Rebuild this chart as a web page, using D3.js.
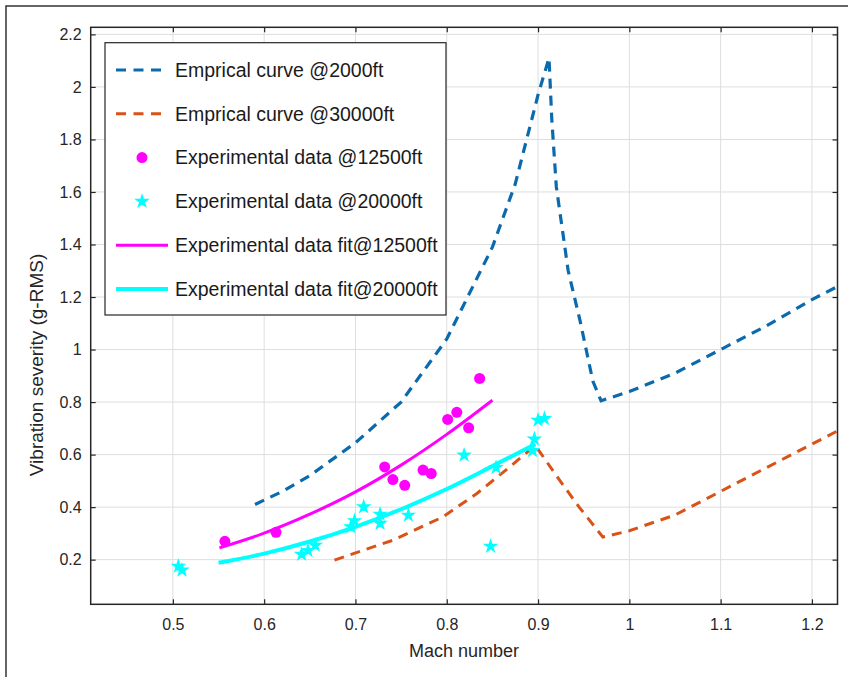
<!DOCTYPE html>
<html>
<head>
<meta charset="utf-8">
<script src="https://cdn.jsdelivr.net/npm/d3@7"></script>
<style>
	body { margin: 0; background: #fff; }
	svg { display: block; font-family: "Liberation Sans", Arial, sans-serif; }
</style>
</head>
<body>
<svg id="chart"></svg>
<script>
// tick values
var xTicks = [0.5, 0.6, 0.7, 0.8, 0.9, 1, 1.1, 1.2];
var yTicks = [0.2, 0.4, 0.6, 0.8, 1, 1.2, 1.4, 1.6, 1.8, 2, 2.2];

// empirical curve @2000ft
var emp2000Mach = [0.59, 0.62, 0.65, 0.7, 0.75, 0.8, 0.85, 0.875, 0.9, 0.912, 0.915, 0.92, 0.933, 0.946, 0.96, 0.969, 1.0, 1.05, 1.1, 1.15, 1.2, 1.228];
var emp2000Vib = [0.41, 0.46, 0.52, 0.645, 0.80, 1.04, 1.39, 1.63, 1.97, 2.11, 1.88, 1.62, 1.30, 1.11, 0.88, 0.805, 0.84, 0.91, 1.0, 1.09, 1.19, 1.24];

// empirical curve @30000ft
var emp30000Mach = [0.677, 0.741, 0.796, 0.833, 0.869, 0.897, 0.92, 0.945, 0.971, 1.0, 1.05, 1.1, 1.15, 1.2, 1.228];
var emp30000Vib = [0.198, 0.274, 0.363, 0.452, 0.553, 0.635, 0.52, 0.40, 0.286, 0.31, 0.37, 0.46, 0.55, 0.64, 0.69];

// experimental data @12500ft
var exp12500Mach = [0.557, 0.613, 0.732, 0.741, 0.754, 0.774, 0.783, 0.801, 0.811, 0.824, 0.836];
var exp12500Vib = [0.270, 0.304, 0.553, 0.505, 0.483, 0.541, 0.528, 0.734, 0.761, 0.702, 0.890];

// experimental data @20000ft
var exp20000Mach = [0.506, 0.51, 0.641, 0.648, 0.656, 0.695, 0.699, 0.709, 0.727, 0.727, 0.758, 0.819, 0.848, 0.854, 0.894, 0.896, 0.900, 0.907];
var exp20000Vib = [0.175, 0.160, 0.220, 0.235, 0.255, 0.325, 0.348, 0.401, 0.373, 0.338, 0.369, 0.598, 0.251, 0.551, 0.615, 0.659, 0.731, 0.737];

// fits
var fit12500Mach = [0.551, 0.6, 0.65, 0.7, 0.75, 0.8, 0.85];
var fit12500Vib = [0.245, 0.301, 0.373, 0.458, 0.560, 0.677, 0.807];
var fit20000Mach = [0.55, 0.6, 0.65, 0.7, 0.75, 0.8, 0.85, 0.897];
var fit20000Vib = [0.188, 0.223, 0.269, 0.325, 0.392, 0.469, 0.556, 0.640];

var legendLabels = [
	"Emprical curve @2000ft",
	"Emprical curve @30000ft",
	"Experimental data @12500ft",
	"Experimental data @20000ft",
	"Experimental data fit@12500ft",
	"Experimental data fit@20000ft"
];

function zip(xs, ys) {
	return xs.map(function (x, i) { return {x: x, y: ys[i]}; });
}

var W = 848, H = 677;
var box = {left: 90.7, right: 837.5, top: 27.3, bottom: 604.3};

var svg = d3.select("#chart")
		.attr("width", W)
		.attr("height", H);

// outer frame of the figure
svg.append("path")
		.attr("d", "M6,677V6H848")
		.attr("fill", "none")
		.attr("stroke", "#333")
		.attr("stroke-width", 1.5);

var x = d3.scaleLinear()
		.domain([0.41, 1.228])
		.range([box.left, box.right]);

var y = d3.scaleLinear()
		.domain([0.03, 2.227])
		.range([box.bottom, box.top]);

var fmt = function (d) { return String(+d.toFixed(1)); };

// grid
svg.append("g")
		.selectAll("line")
		.data(xTicks)
		.enter().append("line")
		.attr("x1", function (d) { return x(d); })
		.attr("x2", function (d) { return x(d); })
		.attr("y1", box.top)
		.attr("y2", box.bottom)
		.attr("stroke", "#dedede")
		.attr("stroke-width", 1);

svg.append("g")
		.selectAll("line")
		.data(yTicks)
		.enter().append("line")
		.attr("y1", function (d) { return y(d); })
		.attr("y2", function (d) { return y(d); })
		.attr("x1", box.left)
		.attr("x2", box.right)
		.attr("stroke", "#dedede")
		.attr("stroke-width", 1);

// axes: ticks inside on all four sides
function styleAxis(g) {
	g.select(".domain").remove();
	g.selectAll(".tick line").attr("stroke", "#262626").attr("stroke-width", 1.2);
	g.selectAll(".tick text")
			.attr("fill", "#262626")
			.style("font-size", "16px");
}

svg.append("g")
		.attr("transform", "translate(0," + box.bottom + ")")
		.call(d3.axisBottom(x).tickValues(xTicks).tickFormat(fmt).tickSizeInner(-5).tickSizeOuter(0).tickPadding(14))
		.call(styleAxis);

svg.append("g")
		.attr("transform", "translate(0," + box.top + ")")
		.call(d3.axisTop(x).tickValues(xTicks).tickFormat("").tickSizeInner(-5).tickSizeOuter(0))
		.call(styleAxis);

svg.append("g")
		.attr("transform", "translate(" + box.left + ",0)")
		.call(d3.axisLeft(y).tickValues(yTicks).tickFormat(fmt).tickSizeInner(-5).tickSizeOuter(0).tickPadding(9))
		.call(styleAxis);

svg.append("g")
		.attr("transform", "translate(" + box.right + ",0)")
		.call(d3.axisRight(y).tickValues(yTicks).tickFormat("").tickSizeInner(-5).tickSizeOuter(0))
		.call(styleAxis);

svg.append("rect")
		.attr("x", box.left)
		.attr("y", box.top)
		.attr("width", box.right - box.left)
		.attr("height", box.bottom - box.top)
		.attr("fill", "none")
		.attr("stroke", "#262626")
		.attr("stroke-width", 1.5);

// axis labels
svg.append("text")
		.attr("x", (box.left + box.right) / 2)
		.attr("y", 657)
		.attr("text-anchor", "middle")
		.attr("fill", "#262626")
		.style("font-size", "18px")
		.text("Mach number");

svg.append("text")
		.attr("transform", "translate(43," + 365 + ")rotate(-90)")
		.attr("text-anchor", "middle")
		.attr("fill", "#262626")
		.style("font-size", "19px")
		.text("Vibration severity (g-RMS)");

// lines
var line = d3.line()
		.x(function (d) { return x(d.x); })
		.y(function (d) { return y(d.y); });

var smooth = d3.line()
		.curve(d3.curveMonotoneX)
		.x(function (d) { return x(d.x); })
		.y(function (d) { return y(d.y); });

var plot = svg.append("g");

plot.append("path")
		.attr("d", line(zip(emp2000Mach, emp2000Vib)))
		.attr("fill", "none")
		.attr("stroke", "#0b6aad")
		.attr("stroke-width", 3.2)
		.attr("stroke-dasharray", "10,7");

plot.append("path")
		.attr("d", line(zip(emp30000Mach, emp30000Vib)))
		.attr("fill", "none")
		.attr("stroke", "#D95319")
		.attr("stroke-width", 3)
		.attr("stroke-dasharray", "10,7");

plot.append("path")
		.attr("d", smooth(zip(fit12500Mach, fit12500Vib)))
		.attr("fill", "none")
		.attr("stroke", "#FF00FF")
		.attr("stroke-width", 3);

plot.append("path")
		.attr("d", smooth(zip(fit20000Mach, fit20000Vib)))
		.attr("fill", "none")
		.attr("stroke", "#00FFFF")
		.attr("stroke-width", 4);

plot.selectAll(".dot")
		.data(zip(exp12500Mach, exp12500Vib))
		.enter().append("circle")
		.attr("class", "dot")
		.attr("cx", function (d) { return x(d.x); })
		.attr("cy", function (d) { return y(d.y); })
		.attr("r", 5.5)
		.attr("fill", "#FF00FF");

var star = d3.symbol().type(d3.symbolStar).size(38);
plot.selectAll(".star")
		.data(zip(exp20000Mach, exp20000Vib))
		.enter().append("path")
		.attr("class", "star")
		.attr("transform", function (d) { return "translate(" + x(d.x) + "," + y(d.y) + ")"; })
		.attr("d", star)
		.attr("fill", "#00FFFF")
		.attr("stroke", "#00FFFF")
		.attr("stroke-width", 1.5);

// legend
var leg = svg.append("g");
leg.append("rect")
		.attr("x", 105)
		.attr("y", 42.7)
		.attr("width", 341)
		.attr("height", 272.3)
		.attr("fill", "#fff")
		.attr("stroke", "#262626")
		.attr("stroke-width", 1.2);

var legY = d3.scalePoint().domain(legendLabels).range([70, 289]);
var styles = [
	{type: "dash", color: "#0b6aad", w: 3.2},
	{type: "dash", color: "#D95319", w: 3},
	{type: "dot", color: "#FF00FF"},
	{type: "star", color: "#00FFFF"},
	{type: "line", color: "#FF00FF", w: 3},
	{type: "line", color: "#00FFFF", w: 4}
];

legendLabels.forEach(function (label, i) {
	var s = styles[i], cy = legY(label);
	if (s.type === "dash" || s.type === "line") {
		leg.append("line")
				.attr("x1", 116).attr("x2", 168)
				.attr("y1", cy).attr("y2", cy)
				.attr("stroke", s.color)
				.attr("stroke-width", s.w)
				.attr("stroke-dasharray", s.type === "dash" ? "10,7.5" : null);
	} else if (s.type === "dot") {
		leg.append("circle").attr("cx", 142).attr("cy", cy).attr("r", 5.5).attr("fill", s.color);
	} else {
		leg.append("path")
				.attr("transform", "translate(142," + cy + ")")
				.attr("d", star)
				.attr("fill", s.color)
				.attr("stroke", s.color)
				.attr("stroke-width", 1.5);
	}
	leg.append("text")
			.attr("x", 175)
			.attr("y", cy)
			.attr("dy", "0.35em")
			.attr("fill", "#1a1a1a")
			.style("font-size", "19.5px")
			.text(label);
});
</script>
</body>
</html>
